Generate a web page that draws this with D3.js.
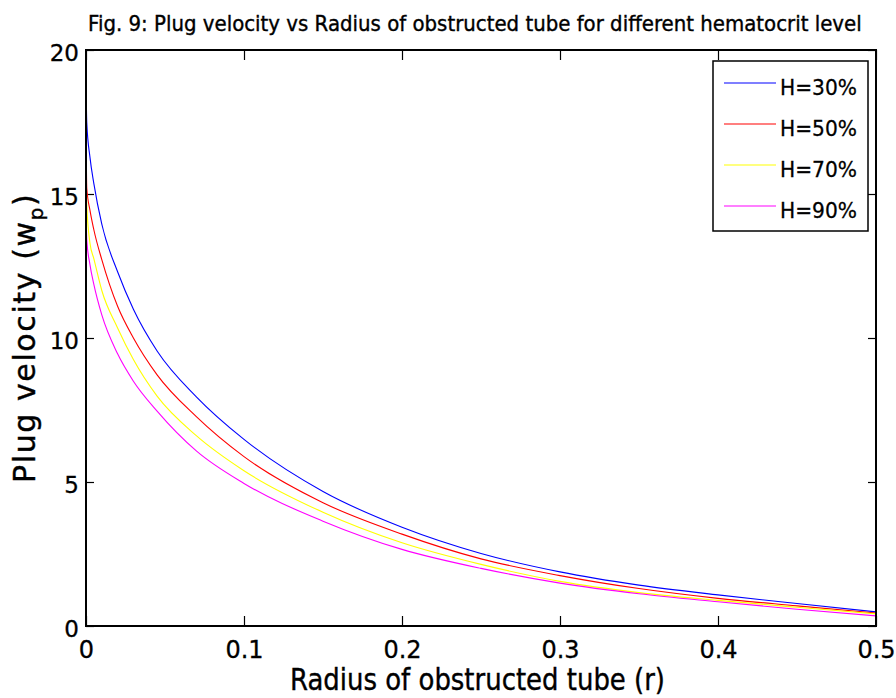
<!DOCTYPE html>
<html lang="en">
    <head>
        <meta charset="utf-8" />
        <script src="https://cdnjs.cloudflare.com/ajax/libs/d3/7.8.5/d3.min.js"></script>
        <title>Fig. 9</title>
        <style>
            body { margin: 0; background: #fff; }
            text { font-family: 'DejaVu Sans', sans-serif; fill: #000; }
        </style>
    </head>
    <body>
        <div id="chart"></div>
        <script>

        // Data
        const radius = [0, 0.0005, 0.0025, 0.005, 0.01, 0.02, 0.03, 0.045, 0.07, 0.1, 0.15, 0.2, 0.25, 0.3, 0.35, 0.4, 0.45, 0.5];
        const h30 = [18.96, 17.47, 16.28, 15.35, 13.95, 12.3, 11.0, 9.55, 7.95, 6.48, 4.67, 3.43, 2.52, 1.88, 1.42, 1.08, 0.78, 0.49];
        const h50 = [17.33, 15.2, 14.44, 13.75, 12.72, 11.1, 10.0, 8.72, 7.26, 5.88, 4.28, 3.19, 2.33, 1.75, 1.3, 0.96, 0.7, 0.45];
        const h70 = [15.9, 14.6, 13.3, 12.75, 11.65, 10.35, 9.25, 7.98, 6.6, 5.39, 3.95, 2.89, 2.14, 1.55, 1.16, 0.89, 0.65, 0.42];
        const h90 = [14.6, 13.4, 12.55, 11.85, 10.8, 9.45, 8.5, 7.46, 6.07, 4.95, 3.64, 2.66, 2.0, 1.49, 1.12, 0.84, 0.58, 0.35];
        const seriesNames = ['H=30%', 'H=50%', 'H=70%', 'H=90%'];
        const seriesColors = ['#0000ff', '#ff0000', '#ffff00', '#ff00ff'];
        const xTicks = [0, 0.1, 0.2, 0.3, 0.4, 0.5];
        const yTicks = [0, 5, 10, 15, 20];

        const width = 896;
        const height = 698;
        const margin = { top: 50, right: 20, bottom: 72, left: 86 };
        const innerW = 790;
        const innerH = 576;

        const svg = d3
            .select('#chart')
            .append('svg')
            .attr('width', width)
            .attr('height', height);

        const g = svg.append('g').attr('transform', `translate(${margin.left}, ${margin.top})`);

        const x = d3.scaleLinear().domain([0, 0.5]).range([0, innerW]);
        const y = d3.scaleLinear().domain([0, 20]).range([innerH, 0]);

        // Axes (ticks point inward, like the original)
        const xAxis = g.append('g')
            .attr('transform', `translate(0, ${innerH})`)
            .call(d3.axisBottom(x).tickValues(xTicks).tickSize(-10).tickSizeOuter(0).tickPadding(15).tickFormat(d3.format('')));
        const yAxis = g.append('g')
            .call(d3.axisLeft(y).tickValues(yTicks).tickSize(-8).tickSizeOuter(0).tickPadding(7).tickFormat(d3.format('')));
        g.append('g')
            .call(d3.axisTop(x).tickValues(xTicks).tickSize(-10).tickSizeOuter(0).tickFormat(''));
        g.append('g')
            .attr('transform', `translate(${innerW}, 0)`)
            .call(d3.axisRight(y).tickValues(yTicks).tickSize(-8).tickSizeOuter(0).tickFormat(''));

        g.selectAll('.domain').remove();
        g.selectAll('.tick line').attr('stroke', '#000').attr('stroke-width', 1.2);
        g.selectAll('.tick text').attr('font-size', 0);

        xAxis.selectAll('.tick text')
            .attr('font-family', 'DejaVu Sans Condensed')
            .attr('font-size', 24)
            .attr('stroke', '#000')
            .attr('stroke-width', 0.3)
            .attr('fill', '#000');
        yAxis.selectAll('.tick text')
            .attr('font-family', 'DejaVu Sans Condensed')
            .attr('font-size', 23)
            .attr('dy', '0.44em')
            .attr('stroke', '#000')
            .attr('stroke-width', 0.3)
            .attr('fill', '#000');

        // Lines
        const line = d3.line()
            .x((d, i) => x(radius[i]))
            .y((d) => y(d))
            .curve(d3.curveMonotoneX);

        const allSeries = [h30, h50, h70, h90];
        g.selectAll('path.series')
            .data(allSeries)
            .enter()
            .append('path')
            .attr('class', 'series')
            .attr('d', line)
            .attr('fill', 'none')
            .attr('stroke', (d, i) => seriesColors[i])
            .attr('stroke-width', 1.1);

        // Frame
        g.append('rect')
            .attr('x', 0)
            .attr('y', 0)
            .attr('width', innerW)
            .attr('height', innerH)
            .attr('fill', 'none')
            .attr('stroke', '#000')
            .attr('stroke-width', 2);

        // Legend
        const legend = svg.append('g').attr('transform', 'translate(713, 61)');
        legend.append('rect')
            .attr('width', 155)
            .attr('height', 170)
            .attr('fill', '#fff')
            .attr('stroke', '#000')
            .attr('stroke-width', 1.5);
        seriesNames.forEach((name, i) => {
            const ly = 22 + i * 41;
            legend.append('line')
                .attr('x1', 11).attr('x2', 63)
                .attr('y1', ly).attr('y2', ly)
                .attr('stroke', seriesColors[i])
                .attr('stroke-width', 1.1);
            legend.append('text')
                .attr('x', 67)
                .attr('y', ly + 12)
                .attr('font-family', 'DejaVu Sans Condensed')
                .attr('font-size', 22)
                .attr('textLength', 77)
                .attr('lengthAdjust', 'spacingAndGlyphs')
                .attr('stroke', '#000')
                .attr('stroke-width', 0.3)
                .text(name);
        });

        // Title: squeezed horizontally with a scale so it spans 88..862
        const title = svg.append('text')
            .attr('font-family', 'DejaVu Sans Condensed')
            .attr('font-size', 22)
            .attr('stroke', '#000')
            .attr('stroke-width', 0.4)
            .text('Fig. 9: Plug velocity vs Radius of obstructed tube for different hematocrit level');
        const titleW = title.node().getComputedTextLength();
        title.attr('transform', `translate(88, 31) scale(${774 / titleW}, 1)`);

        svg.append('text')
            .attr('x', 290)
            .attr('y', 690)
            .attr('font-size', 30)
            .attr('textLength', 375)
            .attr('lengthAdjust', 'spacingAndGlyphs')
            .attr('stroke', '#000')
            .attr('stroke-width', 0.4)
            .text('Radius of obstructed tube (r)');

        const ylab = svg.append('text')
            .attr('transform', 'translate(35, 483) rotate(-90)')
            .attr('font-size', 30)
            .attr('letter-spacing', 1.6)
            .attr('stroke', '#000')
            .attr('stroke-width', 0.4);
        ylab.append('tspan').text('Plug velocity  (w');
        ylab.append('tspan').attr('font-size', 20).attr('dy', 8).text('p');
        ylab.append('tspan').attr('dy', -8).text(')');

        </script>
    </body>
</html>
